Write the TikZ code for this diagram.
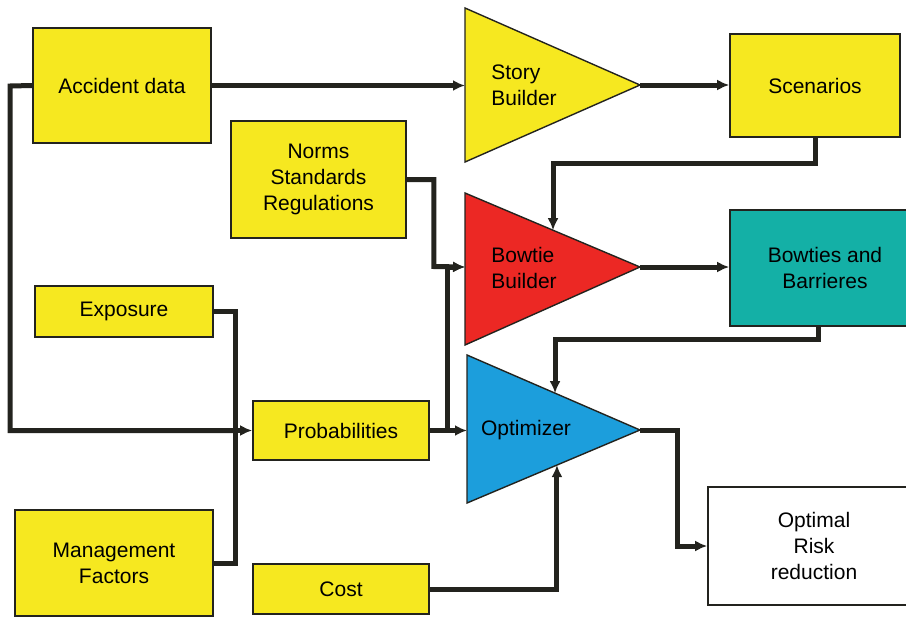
\documentclass[tikz,border=0pt]{standalone}
\usepackage{fontspec}
\setmainfont{Liberation Sans}
\usepackage{tikz}
\usetikzlibrary{
  calc,%
  arrows.meta,%
  positioning
}
\definecolor{boxyellow}{RGB}{246,232,32}
\definecolor{tried}{RGB}{236,40,36}
\definecolor{triteal}{RGB}{20,176,166}
\definecolor{triblue}{RGB}{28,158,220}
\definecolor{edge}{RGB}{35,35,30}
\tikzset{>={Latex[length=12pt,width=11pt]}}
\tikzset{font=\fontsize{21}{26}\selectfont}
\tikzset{box/.style={draw=edge, line width=1.6pt, fill=boxyellow,
    align=center, inner sep=0pt}}
\tikzset{tri/.style={draw=edge, line width=1.4pt}}
\tikzset{link/.style={->, draw=edge, line width=5pt}}

\begin{document}
\begin{tikzpicture}[x=1pt, y=-1pt]
        \useasboundingbox (0, 0) rectangle (906, 619); %
        % input boxes
        \node[box, minimum width=178, minimum height=115] (acc) at (122, 85.5)
          {Accident data}; %
        \node[box, minimum width=175, minimum height=117] (norms) at (318.5, 179.5)
          {Norms\\Standards\\Regulations}; %
        \node[box, minimum width=178, minimum height=51] (expo) at (124, 311.5)
          {Exposure}; %
        \node[box, minimum width=198, minimum height=106] (mgmt) at (114, 563)
          {Management\\Factors}; %
        \node[box, minimum width=176, minimum height=59] (prob) at (341, 430.5)
          {Probabilities}; %
        \node[box, minimum width=176, minimum height=50] (cost) at (341, 589)
          {Cost}; %
        % output boxes
        \node[box, minimum width=170, minimum height=103] (scen) at (815, 85.5)
          {Scenarios}; %
        \node[box, fill=triteal, minimum width=190, minimum height=116] (bows)
          at (825, 268) {Bowties and\\Barrieres}; %
        \node[box, fill=white, minimum width=212, minimum height=118] (optimal)
          at (814, 546) {Optimal\\Risk\\reduction}; %
        % builders
        \coordinate (story-nw) at (465, 8); %
        \coordinate (story-tip) at (640, 85); %
        \coordinate (story-sw) at (465, 162); %
        \coordinate (bowtie-nw) at (465, 193); %
        \coordinate (bowtie-tip) at (640, 267); %
        \coordinate (bowtie-sw) at (465, 345); %
        \coordinate (optim-nw) at (467, 355); %
        \coordinate (optim-tip) at (640, 430); %
        \coordinate (optim-sw) at (467, 503); %
        \filldraw[tri, fill=boxyellow] (story-nw) -- (story-tip) -- (story-sw) -- cycle; %
        \filldraw[tri, fill=tried] (bowtie-nw) -- (bowtie-tip) -- (bowtie-sw) -- cycle; %
        \filldraw[tri, fill=triblue] (optim-nw) -- (optim-tip) -- (optim-sw) -- cycle; %
        \node[align=left] (story) at (524, 85) {Story\\Builder}; %
        \node[align=left] (bowtie) at (524, 268) {Bowtie\\Builder}; %
        \node (optim) at (526, 430) {Optimizer}; %
        % entry points on the triangles
        \coordinate (story-in) at (story-nw |- acc.east); %
        \coordinate (bowtie-in) at (465, 267); %
        \coordinate (bowtie-top) at ($(bowtie-nw)!0.503!(bowtie-tip)$); %
        \coordinate (optim-in) at (optim-nw |- prob.east); %
        \coordinate (optim-top) at ($(optim-nw)!0.509!(optim-tip)$); %
        \coordinate (optim-bot) at ($(optim-sw)!0.52!(optim-tip)$); %
        \coordinate (loop) at (10, 86); %
        \coordinate (merge) at (235, 430.5); %
        % connectors
        \draw[link] (acc.east) -- (story-in); %
        \draw[link] (story-tip) -- (scen.west |- story-tip); %
        \draw[link] (scen.south) -- ++(0, 26) -| (bowtie-top); %
        \draw[link] (norms.east) -| ++(27, 87) -- (bowtie-in); %
        \draw[link] (prob.east) -| ++(18, -163.5) -- (bowtie-in); %
        \draw[link] (bowtie-tip) -- (bows.west |- bowtie-tip); %
        \draw[link] ($(bows.south)+(-7, 0)$) -- ++(0, 13) -| (optim-top); %
        \draw[link] (prob.east) -- (optim-in); %
        \draw[link] (cost.east) -| (optim-bot); %
        \draw[link] (optim-tip) -| ++(37, 116) -- (optimal.west); %
        \draw[link, -] (acc.west) -- (loop) |- (merge); %
        \draw[link, -] (expo.east) -| (merge); %
        \draw[link, -] (mgmt.east) -| (merge); %
        \draw[link] (merge) -- (prob.west); %
      \end{tikzpicture}
\end{document}
